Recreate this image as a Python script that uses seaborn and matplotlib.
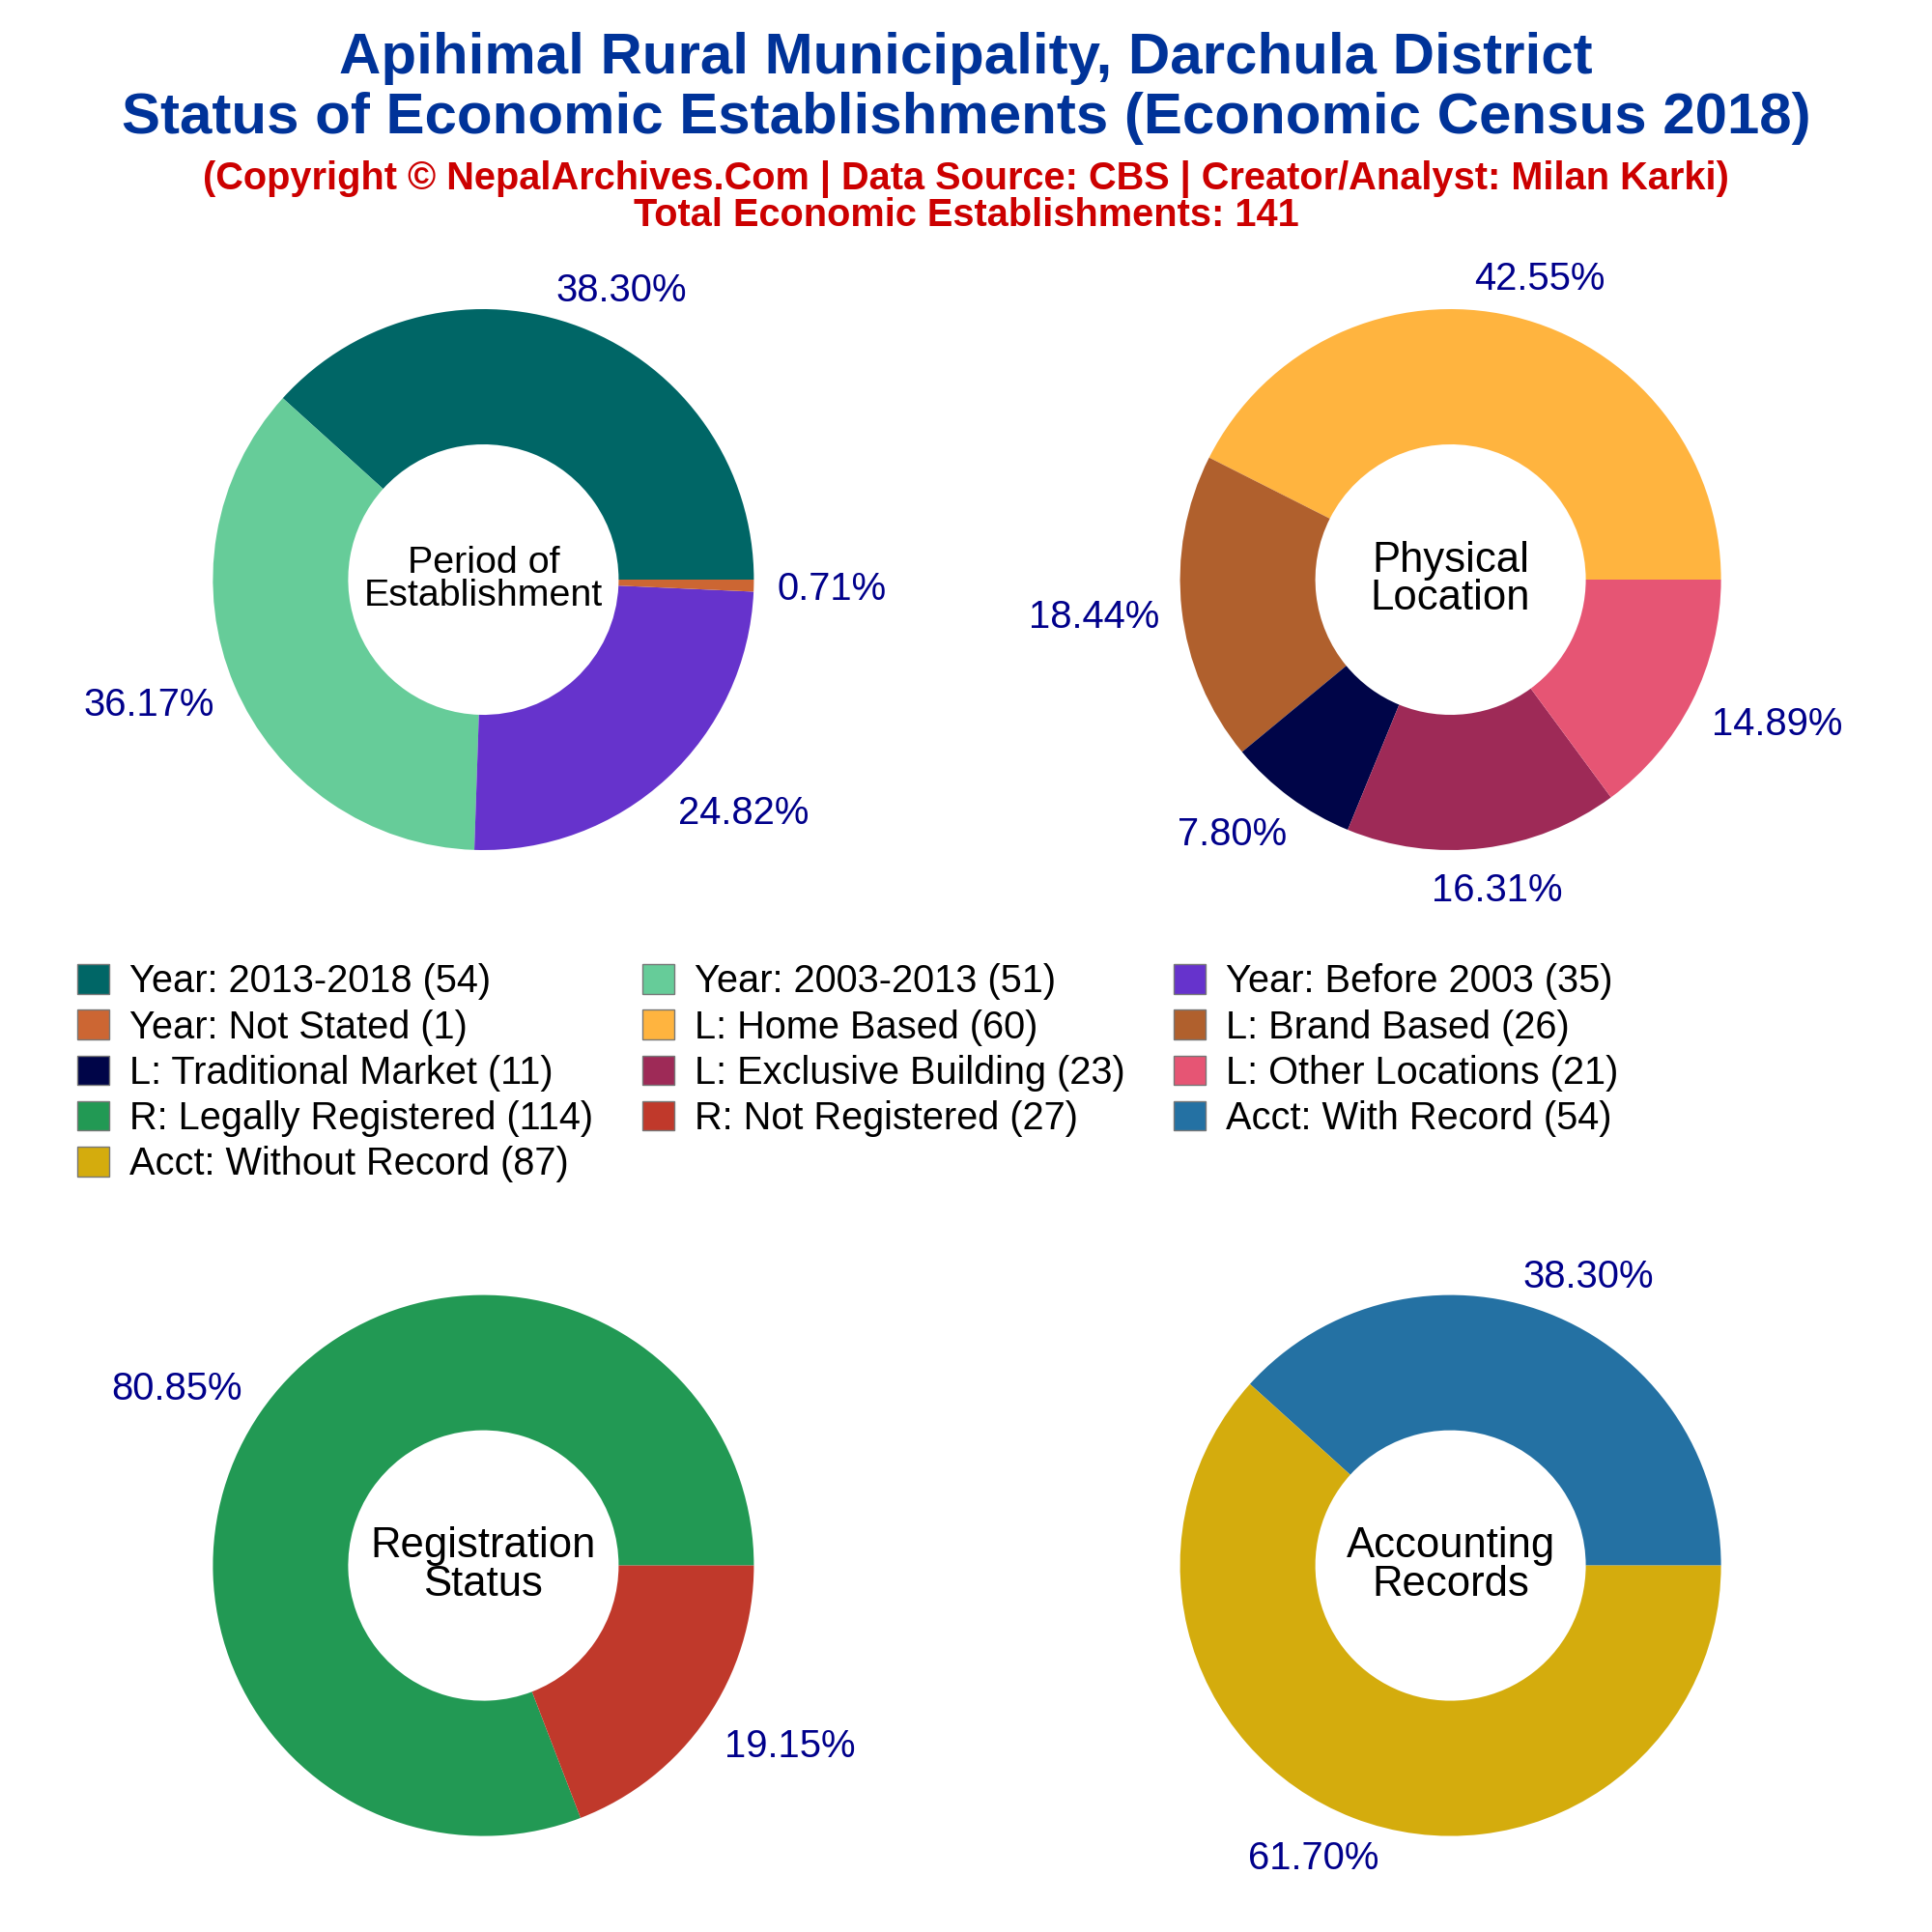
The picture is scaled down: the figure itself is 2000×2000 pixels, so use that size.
import matplotlib
matplotlib.use("Agg")
import numpy as np
import matplotlib.pyplot as plt
from matplotlib.patches import Patch
import seaborn as sns

sns.set_theme(style="white")
plt.rcParams["font.family"] = ["Liberation Sans", "DejaVu Sans"]

panel_titles = ["Period of\nEstablishment", "Physical\nLocation", "Registration\nStatus", "Accounting\nRecords"]

period_labels = ["Year: 2013-2018", "Year: 2003-2013", "Year: Before 2003", "Year: Not Stated"]
period_values = [54, 51, 35, 1]
period_colors = ["#006666", "#66CC99", "#6633CC", "#CC6633"]

location_labels = ["L: Home Based", "L: Brand Based", "L: Traditional Market", "L: Exclusive Building", "L: Other Locations"]
location_values = [60, 26, 11, 23, 21]
location_colors = ["#FFB43F", "#B0602D", "#000548", "#9E2A57", "#E65574"]

reg_labels = ["R: Legally Registered", "R: Not Registered"]
reg_values = [114, 27]
reg_colors = ["#229954", "#C0392B"]

acct_labels = ["Acct: With Record", "Acct: Without Record"]
acct_values = [54, 87]
acct_colors = ["#2471A3", "#D4AC0D"]

panels = [
    (period_labels, period_values, period_colors),
    (location_labels, location_values, location_colors),
    (reg_labels, reg_values, reg_colors),
    (acct_labels, acct_values, acct_colors),
]

# axes boxes in figure fractions
boxes = [(0.1102, 0.5600, 0.28, 0.28), (0.6108, 0.5600, 0.28, 0.28),
         (0.1102, 0.0497, 0.28, 0.28), (0.6108, 0.0497, 0.28, 0.28)]


def pushOutside(ax, wedges, autotexts, renderer):
    # percent labels sit just outside the ring, pushed out by their own size
    for w, t in zip(wedges, autotexts):
        ang = np.deg2rad((w.theta1 + w.theta2) / 2)
        c, s = np.cos(ang), np.sin(ang)
        ext = t.get_window_extent(renderer).transformed(ax.transData.inverted())
        x = 1.1 * c + 0.93 * ext.width / 2 * np.clip(1.4 * c, -1, 1)
        y = 1.1 * s + 0.72 * ext.height / 2 * np.clip(1.4 * s, -1, 1) - 0.009
        t.set_position((x, y))


fig = plt.figure(figsize=(10, 10), dpi=200)
renderer = fig.canvas.get_renderer()
handles = []
for (labels, values, colors), box, name in zip(panels, boxes, panel_titles):
    ax = fig.add_axes(box)
    wedges, texts, autotexts = ax.pie(values, colors=colors, autopct="%.2f%%", radius=1,
                                      wedgeprops=dict(width=0.5, linewidth=0),
                                      textprops=dict(color="#00008B", fontsize=14.4))
    ax.set_xlim(-1, 1)
    ax.set_ylim(-1, 1)
    pushOutside(ax, wedges, autotexts, renderer)
    size = 14.2 if name.startswith("Period") else 15.7
    ax.text(0, 0, name, ha="center", va="center", fontsize=size, color="black", linespacing=0.95)
    for lab, val, col in zip(labels, values, colors):
        handles.append(Patch(facecolor=col, edgecolor="#777777", linewidth=0.5, label="{:s} ({:d})".format(lab, val)))

# legend is filled row by row
ncol = 3
rows = [handles[i:i + ncol] for i in range(0, len(handles), ncol)]
ordered = []
for c in range(ncol):
    for r in rows:
        if c < len(r):
            ordered.append(r[c])
fig.legend(handles=ordered, ncol=ncol, loc="upper left", bbox_to_anchor=(0.0300, 0.5112), frameon=False,
           fontsize=14.3, labelcolor="black", handlelength=0.83, handleheight=0.81, handletextpad=0.53,
           columnspacing=1.28, labelspacing=0.23, borderpad=0)

fig.text(0.5, 0.970, "Apihimal Rural Municipality, Darchula District", ha="center", va="center",
         fontsize=21.6, fontweight="bold", color="#003399")
fig.text(0.5, 0.939, "Status of Economic Establishments (Economic Census 2018)", ha="center", va="center",
         fontsize=21.6, fontweight="bold", color="#003399")
fig.text(0.5, 0.9072, "(Copyright © NepalArchives.Com | Data Source: CBS | Creator/Analyst: Milan Karki)", ha="center",
         va="center", fontsize=14.3, fontweight="bold", color="#CC0000")
fig.text(0.5, 0.8884, "Total Economic Establishments: 141", ha="center", va="center",
         fontsize=14.3, fontweight="bold", color="#CC0000")

plt.savefig("out.png", dpi=200)
plt.close()
